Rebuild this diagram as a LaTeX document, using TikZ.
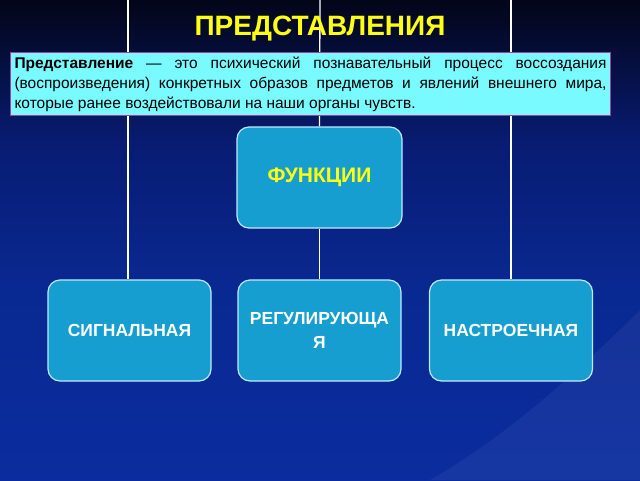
\documentclass[tikz,border=0pt]{standalone}
\usepackage{fontspec}
\setmainfont{Liberation Sans}
\usetikzlibrary{calc,backgrounds}
\definecolor{mynavy}{RGB}{3,5,24}
\definecolor{myroyal}{RGB}{10,44,158}
\definecolor{mymid}{RGB}{8,28,115}
\definecolor{mybox}{RGB}{22,158,208}
\definecolor{mycyan}{RGB}{120,250,255}
\definecolor{myframe}{RGB}{170,60,170}
\definecolor{myyellow}{RGB}{255,255,20}
\pgfdeclareverticalshading{slide}{100bp}{color(0bp)=(myroyal); color(25bp)=(myroyal);
  color(45bp)=(myroyal!92!black); color(60bp)=(mymid); color(75bp)=(mynavy); color(100bp)=(mynavy)}

\begin{document}
\begin{tikzpicture}[x=1pt,y=-1pt]

\tikzstyle{func} = [draw=white!75!cyan, line width=1.2, rounded corners=12,
    fill=mybox, minimum width=163, minimum height=101, inner sep=2,
    align=center, font=\bfseries\fontsize{17.5}{24}\selectfont, text=white]
\tikzstyle{link} = [draw=white, line width=1.3]

% =========================
% lines from the top
% =========================
\useasboundingbox (0,0) rectangle (640,480);
\coordinate (topl) at (128,0);
\coordinate (topm) at (320,0);
\coordinate (topr) at (511,0);

% =========================
% boxes
% =========================
\node[func, minimum width=165, text=myyellow,
    font=\bfseries\fontsize{21}{24}\selectfont] (funk) at (319.5,177.5) {ФУНКЦИИ};

\node[func] (sign) at (129.5,330.5) {СИГНАЛЬНАЯ};
\node[func] (regul) at (319.5,330.5) {РЕГУЛИРУЮЩА\\Я};
\node[func] (nastr) at (511,330.5) {НАСТРОЕЧНАЯ};

% background and connectors
\begin{scope}[on background layer]
\shade[shading=slide] (0,0) rectangle (640,480);
\fill[white, opacity=0.05] (640,310) .. controls (570,380) and (500,440) .. (430,480)
    -- (640,480) -- cycle;
\draw[link] (topl) -- (topl |- sign.north);
\draw[link] (topr) -- (topr |- nastr.north);
\draw[link] (topm) -- (funk.north);
\draw[link] (funk.south) -- (regul.north);
\end{scope}

% =========================
% title and definition
% =========================
\node[text=myyellow, font=\bfseries\fontsize{28}{30}\selectfont] (title) at (320,29) {ПРЕДСТАВЛЕНИЯ};

\node[draw=myframe, line width=1, fill=mycyan, text width=592, inner sep=4,
    align=justify, font=\fontsize{15.5}{20}\selectfont, anchor=north west] (defin) at (10,52)
    {\textbf{Представление} — это психический познавательный процесс воссоздания\linebreak
    (воспроизведения) конкретных образов предметов и явлений внешнего мира,\linebreak
    которые ранее воздействовали на наши органы чувств.};

\end{tikzpicture}
\end{document}
